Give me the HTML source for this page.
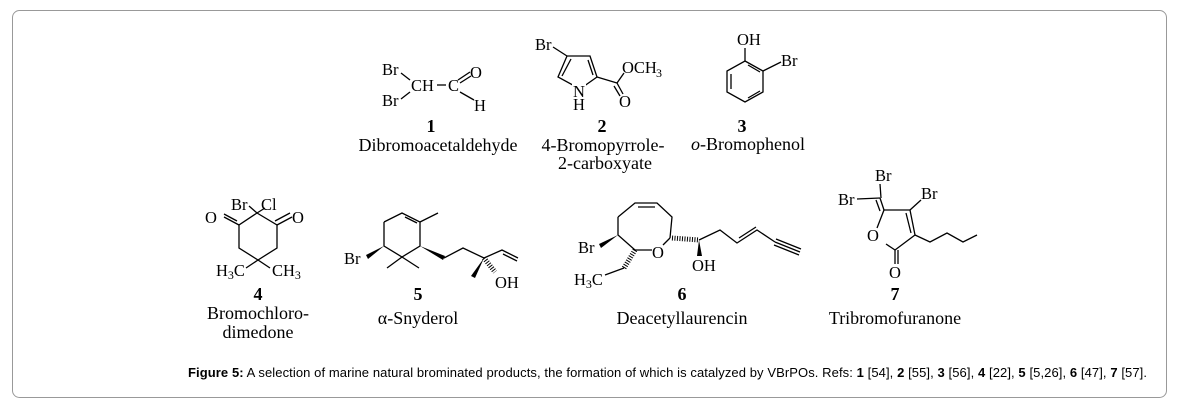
<!DOCTYPE html>
<html><head><meta charset="utf-8"><style>
body{margin:0;background:#fff;width:1179px;height:410px;overflow:hidden}
svg{position:absolute;left:0;top:0}
text{font-family:"Liberation Serif",serif;font-size:16.5px;fill:#000}
.n{font-size:18px;text-anchor:middle}
.b{font-weight:bold;font-size:18px;text-anchor:middle}
.cap{font-family:"Liberation Sans",sans-serif;font-size:13px}
line,polyline,polygon{stroke:#000;stroke-width:1.3;fill:none}
.w{fill:#000;stroke:none}
</style></head><body>
<svg width="1179" height="410" viewBox="0 0 1179 410">
<rect x="12.5" y="10.5" width="1154" height="387" rx="7" fill="none" stroke="#999" stroke-width="1"/>

<!-- 1 -->
<text x="382" y="75">Br</text><text x="382" y="106">Br</text>
<line x1="401" y1="73" x2="410" y2="80"/><line x1="401" y1="99" x2="410" y2="92"/>
<text x="411" y="91">CH</text><line x1="437" y1="85" x2="446" y2="85"/>
<text x="448" y="91">C</text>
<line x1="458" y1="80" x2="470" y2="72"/><line x1="460" y1="83" x2="471" y2="76"/>
<text x="470" y="78">O</text>
<line x1="460" y1="92" x2="474" y2="100"/><text x="474" y="111">H</text>
<text class="b" x="431" y="132">1</text>
<text class="n" x="438" y="151">Dibromoacetaldehyde</text>

<!-- 2 -->
<text x="535" y="50">Br</text>
<line x1="553" y1="47" x2="567" y2="56"/>
<polygon points="567,56 590,56 597,77 580,89 558,77"/>
<line x1="571" y1="59" x2="562" y2="76"/><line x1="588" y1="60" x2="593" y2="75"/>
<rect x="572" y="83" width="14" height="12" fill="#fff" stroke="none"/>
<text x="573" y="97">N</text><text x="573" y="110">H</text>
<line x1="597" y1="77" x2="617" y2="83"/>
<line x1="617" y1="83" x2="624" y2="73"/>
<text x="622" y="73">OCH</text><text x="656" y="77" style="font-size:12px">3</text>
<line x1="617" y1="83" x2="623" y2="94"/><line x1="614" y1="86" x2="620" y2="96"/>
<text x="619" y="107">O</text>
<text class="b" x="602" y="132">2</text>
<text class="n" x="603" y="151">4-Bromopyrrole-</text><text class="n" x="605" y="169">2-carboxyate</text>

<!-- 3 -->
<text x="737" y="45">OH</text>
<line x1="745" y1="48" x2="745" y2="61"/>
<polygon points="745,61 763,71 763,92 745,102 727,92 727,71"/>
<line x1="731" y1="74" x2="731" y2="89"/><line x1="748" y1="98" x2="760" y2="91"/><line x1="748" y1="65" x2="760" y2="72"/>
<line x1="763" y1="71" x2="781" y2="62"/><text x="781" y="66">Br</text>
<text class="b" x="742" y="132">3</text>
<text class="n" x="748" y="150"><tspan font-style="italic">o</tspan>-Bromophenol</text>

<!-- 4 -->
<text x="231" y="210">Br</text><text x="261" y="210">Cl</text>
<line x1="249" y1="206" x2="257" y2="213"/><line x1="265" y1="208" x2="257" y2="213"/>
<polyline points="257,213 239,225 239,248 258,260 277,248 277,225 257,213"/>
<line x1="239" y1="225" x2="224" y2="217"/><line x1="237" y1="221" x2="224" y2="214"/>
<text x="205" y="223">O</text>
<line x1="277" y1="225" x2="292" y2="217"/><line x1="275" y1="221" x2="290" y2="213"/>
<text x="292" y="223">O</text>
<line x1="258" y1="260" x2="246" y2="268"/><line x1="258" y1="260" x2="270" y2="268"/>
<text x="216" y="276">H<tspan font-size="12" dy="3">3</tspan><tspan dy="-3">C</tspan></text>
<text x="272" y="276">CH<tspan font-size="12" dy="3">3</tspan></text>
<text class="b" x="258" y="300">4</text>
<text class="n" x="258" y="319">Bromochloro-</text><text class="n" x="258" y="338">dimedone</text>

<!-- 5 -->
<polyline points="384,222 402,213 420,222 420,246 402,257 384,246 384,222"/>
<line x1="405" y1="217" x2="417" y2="223"/>
<line x1="420" y1="222" x2="438" y2="213"/>
<polygon class="w" points="384,246 366,255 368,259"/>
<text x="344" y="264">Br</text>
<line x1="402" y1="257" x2="387" y2="268"/><line x1="402" y1="257" x2="419" y2="268"/>
<polygon class="w" points="420,246 445,256 443,260"/>
<polyline points="444,258 463,248 484,258 502,250 518,258"/>
<line x1="503" y1="254" x2="517" y2="261"/>
<polygon class="w" points="484,258 471,276 475,278"/>
<line x1="484" y1="258" x2="495" y2="272" style="stroke-width:5;stroke-dasharray:1 1.5"/>
<text x="495" y="288">OH</text>
<text class="b" x="418" y="300">5</text>
<text class="n" x="418" y="324">α-Snyderol</text>

<!-- 6 -->
<polyline points="618,217 635,203 657,203 672,217 670,238"/>
<polyline points="618,217 618,235 635,250"/>
<line x1="670" y1="238" x2="663" y2="245"/><line x1="652" y1="250" x2="635" y2="250"/>
<line x1="638" y1="207" x2="655" y2="207"/>
<text x="652" y="258">O</text>
<polygon class="w" points="618,235 599,244 601,248"/>
<text x="578" y="253">Br</text>
<line x1="635" y1="250" x2="624" y2="268" style="stroke-width:5;stroke-dasharray:1 1.5"/>
<line x1="624" y1="268" x2="605" y2="275"/>
<text x="574" y="285">H<tspan font-size="12" dy="3">3</tspan><tspan dy="-3">C</tspan></text>
<line x1="672" y1="238" x2="699" y2="240" style="stroke-width:5;stroke-dasharray:1 1.5"/>
<polygon class="w" points="699,240 697,256 702,256"/>
<text x="692" y="271">OH</text>
<polyline points="699,240 720,230 737,243 757,230 775,242"/>
<line x1="739" y1="238" x2="756" y2="227"/>
<line x1="775" y1="242" x2="800" y2="252"/><line x1="776" y1="239" x2="801" y2="249"/><line x1="774" y1="245" x2="799" y2="255"/>
<text class="b" x="682" y="300">6</text>
<text class="n" x="682" y="324">Deacetyllaurencin</text>

<!-- 7 -->
<text x="875" y="181">Br</text>
<line x1="880" y1="184" x2="881" y2="198"/>
<text x="838" y="205">Br</text>
<line x1="857" y1="199" x2="880" y2="198"/>
<line x1="880" y1="198" x2="884" y2="210"/><line x1="876" y1="200" x2="880" y2="211"/>
<polyline points="884,210 910,210 915,235 895,250"/>
<line x1="906" y1="213" x2="911" y2="233"/>
<line x1="884" y1="210" x2="877" y2="228"/><line x1="886" y1="244" x2="895" y2="250"/>
<text x="867" y="241">O</text>
<line x1="910" y1="210" x2="921" y2="200"/><text x="921" y="199">Br</text>
<line x1="895" y1="250" x2="895" y2="264"/><line x1="898" y1="250" x2="898" y2="264"/>
<text x="889" y="278">O</text>
<polyline points="915,235 930,242 947,233 963,242 977,235"/>
<text class="b" x="895" y="300">7</text>
<text class="n" x="895" y="324">Tribromofuranone</text>

<text class="cap" x="188" y="377" textLength="959" lengthAdjust="spacing"><tspan font-weight="bold">Figure 5:</tspan> A selection of marine natural brominated products, the formation of which is catalyzed by VBrPOs. Refs: <tspan font-weight="bold">1</tspan> [54], <tspan font-weight="bold">2</tspan> [55], <tspan font-weight="bold">3</tspan> [56], <tspan font-weight="bold">4</tspan> [22], <tspan font-weight="bold">5</tspan> [5,26], <tspan font-weight="bold">6</tspan> [47], <tspan font-weight="bold">7</tspan> [57].</text>
</svg>
</body></html>
